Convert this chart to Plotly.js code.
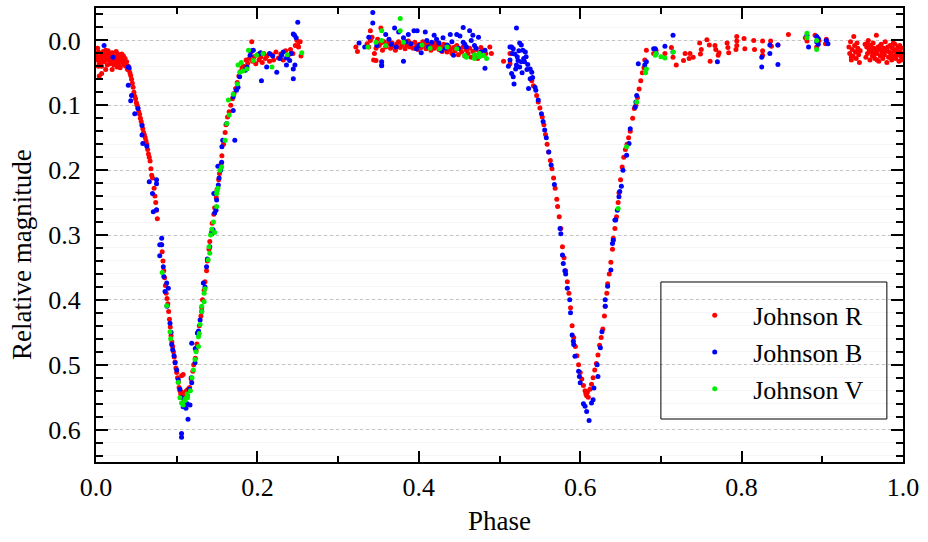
<!DOCTYPE html>
<html>
<head>
<meta charset="utf-8">
<script src="https://cdn.plot.ly/plotly-3.0.1.min.js"></script>
<style>html,body{margin:0;padding:0;background:#fff;}#chart{width:928px;height:542px;}</style>
</head>
<body>
<div id="chart"></div>
<script>
// Series names
const seriesNames = ["Johnson R", "Johnson B", "Johnson V"];
const seriesColors = ["#ff0000", "#0000ff", "#00ee00"];

// Tick values
const xTicks = [0.0, 0.2, 0.4, 0.6, 0.8, 1.0];
const yTicks = [0.0, 0.1, 0.2, 0.3, 0.4, 0.5, 0.6];

// Johnson R: [phase, relative magnitude]
const johnsonR = [
[0.000,0.022],[0.001,0.026],[0.002,0.030],[0.002,0.012],[0.003,0.018],[0.003,0.040],[0.004,0.035],[0.005,0.025],[0.006,0.020],[0.006,0.033],
[0.007,0.040],[0.007,0.051],[0.008,0.028],[0.009,0.017],[0.009,0.025],[0.010,0.033],[0.011,0.024],[0.011,0.029],[0.012,0.045],[0.012,0.015],
[0.013,0.021],[0.014,0.030],[0.014,0.038],[0.015,0.016],[0.016,0.027],[0.016,0.022],[0.017,0.036],[0.017,0.031],[0.018,0.022],[0.019,0.031],
[0.019,0.027],[0.020,0.019],[0.021,0.028],[0.021,0.034],[0.022,0.038],[0.023,0.024],[0.024,0.033],[0.024,0.026],[0.025,0.017],[0.026,0.029],
[0.026,0.041],[0.027,0.036],[0.027,0.021],[0.028,0.025],[0.029,0.032],[0.029,0.039],[0.030,0.042],[0.031,0.027],[0.032,0.021],[0.032,0.030],
[0.033,0.034],[0.034,0.030],[0.034,0.024],[0.035,0.038],[0.036,0.028],[0.037,0.040],[0.038,0.033],[0.039,0.045],[0.004,0.055],[0.020,0.045],
[0.040,0.040],[0.041,0.045],[0.042,0.050],[0.043,0.054],[0.044,0.060],[0.045,0.066],[0.046,0.072],[0.047,0.080],[0.048,0.086],[0.049,0.090],
[0.050,0.096],[0.051,0.100],[0.052,0.104],[0.053,0.110],[0.054,0.114],[0.055,0.120],[0.056,0.125],[0.057,0.130],[0.058,0.136],[0.059,0.142],
[0.060,0.146],[0.061,0.150],[0.062,0.155],[0.063,0.160],[0.064,0.168],[0.065,0.175],[0.066,0.180],[0.067,0.186],[0.068,0.198],[0.069,0.208],
[0.070,0.212],[0.072,0.228],[0.073,0.240],[0.074,0.250],[0.075,0.262],[0.076,0.275],
[0.081,0.315],[0.082,0.326],[0.083,0.340],[0.084,0.355],[0.085,0.366],[0.086,0.378],[0.087,0.390],[0.088,0.398],[0.089,0.406],[0.090,0.418],
[0.091,0.430],[0.092,0.442],[0.093,0.455],[0.094,0.465],[0.095,0.472],[0.096,0.480],[0.097,0.488],[0.098,0.496],[0.099,0.505],[0.100,0.512],
[0.101,0.520],[0.102,0.527],[0.103,0.535],[0.104,0.540],[0.105,0.545],[0.106,0.550],[0.107,0.543],[0.108,0.548],[0.109,0.553],[0.110,0.545],
[0.111,0.551],[0.112,0.540],[0.113,0.547],[0.114,0.538],[0.106,0.517],[0.108,0.515],
[0.116,0.535],[0.118,0.522],[0.120,0.510],[0.121,0.500],[0.123,0.490],[0.124,0.478],[0.125,0.468],[0.127,0.452],[0.128,0.440],[0.130,0.425],
[0.131,0.412],[0.132,0.400],[0.134,0.385],[0.135,0.372],[0.137,0.355],[0.138,0.340],[0.140,0.322],[0.141,0.310],[0.143,0.296],[0.144,0.282],
[0.146,0.268],[0.147,0.258],[0.149,0.242],[0.150,0.230],[0.152,0.215],[0.153,0.205],[0.155,0.190],[0.156,0.178],[0.158,0.160],[0.160,0.142],
[0.161,0.130],[0.163,0.118],[0.165,0.110],[0.167,0.100],[0.169,0.090],[0.171,0.082],[0.173,0.074],[0.175,0.065],[0.177,0.055],[0.179,0.048],
[0.181,0.042],[0.183,0.040],[0.186,0.030],[0.188,0.035],[0.190,0.028],[0.192,0.018],[0.193,0.002],[0.194,0.032],[0.196,0.025],[0.198,0.036],
[0.200,0.022],[0.202,0.030],[0.204,0.026],[0.206,0.034],[0.208,0.020],[0.210,0.028],[0.212,0.024],[0.215,0.032],[0.218,0.022],[0.220,0.030],
[0.223,0.018],[0.226,0.027],[0.229,0.021],[0.232,0.030],[0.235,0.016],[0.238,0.024],[0.241,0.014],[0.244,0.020],[0.247,0.008],[0.249,0.000],
[0.250,0.008],[0.251,0.010],[0.253,0.002],[0.254,0.024],
[0.322,0.010],[0.324,0.017],[0.336,0.005],[0.338,0.010],[0.340,0.000],[0.340,-0.015],[0.342,-0.005],[0.344,0.030],[0.345,0.020],[0.347,0.012],
[0.347,0.031],[0.349,-0.002],[0.351,0.008],[0.353,0.004],[0.353,-0.019],[0.354,0.038],[0.355,0.015],[0.357,0.002],[0.359,0.010],[0.361,0.006],
[0.363,0.000],[0.365,0.012],[0.367,0.004],[0.369,0.009],[0.371,0.015],[0.373,0.005],[0.375,0.002],[0.377,0.011],[0.379,0.007],[0.381,0.003],
[0.383,0.013],[0.385,0.008],[0.387,0.001],[0.389,0.010],[0.391,0.005],[0.393,0.012],[0.395,0.003],[0.397,0.009],[0.399,0.014],[0.401,0.006],
[0.403,0.011],[0.405,0.002],[0.407,0.008],[0.409,0.013],[0.411,0.005],[0.413,0.010],[0.415,0.015],[0.417,0.007],[0.419,0.012],[0.421,0.004],
[0.423,0.009],[0.425,0.014],[0.427,0.010],[0.429,0.017],[0.431,0.006],[0.433,0.012],[0.435,0.018],[0.437,0.009],[0.439,0.014],[0.441,0.020],
[0.443,0.011],[0.445,0.016],[0.447,0.008],[0.449,0.022],[0.451,0.013],[0.453,0.018],[0.455,0.010],[0.457,0.024],[0.459,0.015],[0.461,0.020],
[0.463,0.012],[0.465,0.026],[0.467,0.017],[0.469,0.022],[0.471,0.014],[0.473,0.028],[0.475,0.019],[0.477,0.011],[0.479,0.023],[0.481,0.016],
[0.483,0.020],[0.488,0.010],[0.490,0.020],[0.505,0.032],[0.513,0.020],[0.513,0.036],
[0.540,0.062],[0.542,0.070],[0.546,0.085],[0.548,0.095],[0.550,0.104],[0.553,0.118],[0.555,0.130],[0.557,0.145],[0.559,0.160],[0.561,0.172],
[0.563,0.185],[0.565,0.198],[0.567,0.212],[0.569,0.228],[0.571,0.245],[0.572,0.256],[0.574,0.272],[0.576,0.290],[0.578,0.318],[0.580,0.335],
[0.582,0.355],[0.584,0.372],[0.586,0.390],[0.588,0.412],[0.590,0.440],[0.592,0.458],[0.594,0.472],[0.596,0.486],[0.598,0.500],[0.600,0.512],
[0.602,0.522],[0.604,0.532],[0.606,0.540],[0.607,0.545],[0.608,0.548],[0.609,0.542],[0.610,0.550],[0.612,0.538],
[0.614,0.530],[0.616,0.520],[0.618,0.508],[0.620,0.498],[0.622,0.485],[0.624,0.470],[0.626,0.458],[0.628,0.445],[0.630,0.425],[0.631,0.410],
[0.633,0.390],[0.634,0.375],[0.636,0.360],[0.638,0.342],[0.640,0.322],[0.641,0.305],[0.643,0.290],[0.645,0.272],[0.647,0.250],[0.648,0.235],
[0.650,0.215],[0.652,0.195],[0.654,0.180],[0.656,0.168],[0.658,0.160],[0.660,0.150],[0.662,0.140],[0.665,0.120],[0.667,0.105],[0.669,0.100],
[0.671,0.088],[0.673,0.075],[0.675,0.062],[0.677,0.050],[0.679,0.042],[0.680,0.030],[0.682,0.015],
[0.691,0.020],[0.694,0.015],[0.705,0.020],[0.713,0.011],[0.715,0.026],[0.719,0.038],[0.728,0.031],[0.730,0.020],[0.736,0.020],[0.735,0.028],
[0.740,0.026],[0.748,0.004],[0.750,0.014],[0.749,0.021],[0.757,-0.001],[0.760,0.007],[0.761,0.032],[0.767,0.008],[0.768,0.014],[0.771,0.023],
[0.772,0.019],[0.782,0.004],[0.783,0.011],[0.784,0.019],[0.794,-0.006],[0.794,0.001],[0.794,0.008],[0.793,0.014],[0.803,-0.003],[0.804,0.013],
[0.815,0.000],[0.816,0.014],[0.826,0.001],[0.826,0.016],[0.826,0.023],[0.836,0.001],[0.837,0.009],[0.845,0.007],[0.858,-0.009],
[0.879,-0.004],[0.881,0.001],[0.891,-0.008],[0.893,0.010],[0.896,0.000],[0.905,-0.002],[0.904,0.005],
[0.933,0.010],[0.934,0.020],[0.935,0.002],[0.936,0.030],[0.937,0.014],[0.938,0.024],[0.939,-0.006],[0.940,0.008],[0.941,0.018],[0.942,0.028],
[0.943,0.004],[0.944,0.012],[0.945,0.022],[0.946,0.034],[0.947,0.016],[0.944,0.016],[0.936,0.026],
[0.953,0.006],[0.954,0.026],[0.955,0.010],[0.956,0.020],[0.957,0.000],[0.958,0.014],[0.959,0.030],[0.960,0.008],[0.961,0.018],[0.962,0.024],
[0.963,0.004],[0.964,0.012],[0.965,0.028],[0.966,0.016],[0.967,-0.008],[0.968,0.020],[0.969,0.010],[0.970,0.032],[0.971,0.014],[0.972,0.024],
[0.973,0.006],[0.974,0.018],[0.975,0.028],[0.976,0.012],[0.977,0.022],[0.978,0.002],[0.979,0.016],[0.980,0.034],[0.981,0.010],[0.982,0.026],
[0.983,0.018],[0.984,0.008],[0.985,0.020],[0.986,0.030],[0.987,0.012],[0.988,0.024],[0.989,0.016],[0.990,0.006],[0.991,0.028],[0.992,0.014],
[0.993,0.022],[0.994,0.010],[0.995,0.032],[0.996,0.018],[0.997,0.024],[0.998,0.012],[0.999,0.026],[1.000,0.020],[0.960,0.014],[0.968,0.030],
[0.976,0.018],[0.984,0.026],[0.992,0.020],[0.998,0.030],[0.956,0.004],[0.972,0.008],[0.988,0.004],[0.964,0.022],[0.980,0.014],[0.996,0.008]
];

// Johnson B: [phase, relative magnitude]
const johnsonB = [
[0.010,0.008],[0.021,0.026],
[0.040,0.041],[0.040,0.069],[0.041,0.042],[0.043,0.093],[0.044,0.085],[0.048,0.113],[0.052,0.105],[0.057,0.131],
[0.057,0.146],[0.058,0.159],[0.063,0.163],[0.066,0.218],[0.070,0.236],[0.071,0.264],[0.075,0.261],[0.075,0.215],[0.075,0.221],
[0.079,0.315],[0.0814,0.305],[0.0814,0.315],[0.079,0.332],[0.0834,0.349],[0.084,0.364],[0.0855,0.387],[0.0876,0.374],[0.0896,0.382],[0.088,0.410],
[0.0917,0.436],[0.093,0.450],[0.0938,0.469],[0.095,0.477],[0.0967,0.486],[0.098,0.497],[0.100,0.508],[0.102,0.523],[0.104,0.538],[0.106,0.551],
[0.109,0.559],[0.1115,0.567],[0.1165,0.562],[0.1156,0.538],[0.106,0.606],[0.106,0.612],[0.114,0.584],[0.108,0.565],[0.113,0.560],
[0.1186,0.528],[0.118,0.520],[0.1186,0.467],[0.123,0.475],[0.1227,0.497],[0.1256,0.451],[0.127,0.448],[0.129,0.431],[0.131,0.418],[0.133,0.374],
[0.135,0.380],[0.137,0.349],[0.138,0.337],[0.141,0.318],[0.1434,0.298],[0.145,0.292],[0.147,0.266],[0.1487,0.262],[0.1495,0.246],[0.146,0.236],
[0.1516,0.223],[0.1525,0.212],[0.151,0.194],[0.1545,0.200],[0.1557,0.188],[0.156,0.164],[0.157,0.154],[0.162,0.128],[0.170,0.108],[0.172,0.154],
[0.170,0.087],[0.174,0.077],[0.176,0.072],[0.178,0.056],[0.185,0.046],[0.187,0.041],[0.191,0.023],[0.193,0.016],[0.195,0.015],[0.203,0.020],
[0.204,0.019],[0.205,0.062],[0.2115,0.041],[0.215,0.020],[0.219,0.024],[0.224,0.049],[0.228,0.028],[0.230,0.023],[0.232,0.018],[0.236,0.038],
[0.236,0.027],[0.240,0.031],[0.242,0.020],[0.2445,0.059],[0.2445,0.044],[0.2465,0.038],[0.250,-0.028],[0.2445,-0.010],[0.246,-0.008],[0.248,-0.004],
[0.326,0.004],[0.333,0.010],[0.338,-0.005],[0.343,-0.043],[0.343,-0.027],[0.348,0.008],[0.354,0.033],[0.354,0.039],[0.359,-0.009],[0.363,-0.002],
[0.366,0.006],[0.370,-0.019],[0.372,0.010],[0.375,-0.013],[0.381,0.032],[0.381,-0.004],[0.384,0.002],[0.387,-0.009],[0.390,0.005],[0.394,-0.015],
[0.397,0.013],[0.398,-0.015],[0.400,0.008],[0.403,0.019],[0.408,-0.013],[0.410,0.000],[0.412,0.010],[0.416,0.003],[0.419,-0.008],[0.422,-0.002],
[0.425,0.004],[0.428,0.016],[0.430,-0.004],[0.433,0.012],[0.435,0.007],[0.439,-0.009],[0.441,0.002],[0.443,0.023],[0.447,-0.009],[0.449,0.012],
[0.451,-0.007],[0.455,-0.020],[0.455,0.003],[0.457,0.006],[0.459,0.010],[0.463,-0.015],[0.465,0.000],[0.467,-0.008],[0.469,0.008],[0.471,0.012],
[0.474,-0.005],[0.477,0.018],[0.482,0.015],[0.482,0.043],
[0.511,0.040],[0.513,0.010],[0.513,0.030],[0.515,0.010],[0.515,0.051],[0.516,0.020],[0.517,0.013],[0.517,0.056],[0.518,0.067],[0.519,0.021],
[0.520,0.044],[0.521,-0.019],[0.521,0.038],[0.522,0.025],[0.523,0.031],[0.524,0.016],[0.525,0.004],[0.525,0.041],[0.527,0.007],[0.527,0.033],
[0.528,0.050],[0.529,0.015],[0.530,0.028],[0.531,0.033],[0.532,0.018],[0.533,0.025],[0.534,0.045],[0.535,0.037],[0.536,0.074],[0.538,0.044],
[0.538,0.059],[0.540,0.049],[0.541,0.057],[0.544,0.072],[0.545,0.077],
[0.548,0.092],[0.552,0.113],[0.554,0.125],[0.556,0.138],[0.558,0.150],[0.561,0.172],[0.564,0.192],[0.568,0.222],[0.575,0.290],[0.576,0.298],
[0.578,0.331],[0.579,0.344],[0.581,0.355],[0.582,0.360],[0.584,0.382],[0.587,0.400],[0.588,0.420],[0.590,0.454],[0.5915,0.464],[0.592,0.469],
[0.5935,0.487],[0.598,0.510],[0.599,0.518],[0.600,0.528],[0.604,0.560],[0.606,0.564],[0.608,0.572],[0.611,0.586],[0.614,0.559],[0.616,0.554],
[0.617,0.536],[0.622,0.518],[0.621,0.500],[0.625,0.474],[0.627,0.449],[0.631,0.410],[0.631,0.400],[0.634,0.379],[0.638,0.354],[0.640,0.313],
[0.641,0.308],[0.644,0.277],[0.646,0.262],[0.643,0.277],[0.648,0.241],[0.649,0.233],[0.651,0.225],[0.653,0.200],[0.6575,0.177],[0.6605,0.159],
[0.662,0.136],[0.668,0.103],[0.669,0.095],[0.670,0.085],[0.672,0.036],[0.682,0.033],[0.691,0.013],
[0.680,0.038],[0.693,0.013],[0.694,0.020],[0.705,0.009],[0.715,-0.008],[0.715,0.018],[0.770,0.033],[0.825,0.026],[0.825,0.041],[0.835,0.007],
[0.835,0.020],[0.845,0.037],[0.845,0.007],[0.881,-0.008],[0.883,0.010],[0.893,-0.006],[0.895,-0.003],[0.893,0.002],[0.895,0.006],[0.905,0.000],
[0.907,0.005]
];

// Johnson V: [phase, relative magnitude]
const johnsonV = [
[0.082,0.358],[0.0876,0.409],[0.0917,0.449],[0.0925,0.460],[0.102,0.527],[0.104,0.551],[0.106,0.559],[0.108,0.562],[0.110,0.555],[0.111,0.552],
[0.1135,0.551],[0.113,0.545],[0.117,0.540],[0.119,0.520],[0.1206,0.508],[0.1227,0.492],[0.124,0.480],[0.127,0.457],[0.127,0.472],[0.128,0.452],
[0.129,0.438],[0.131,0.418],[0.131,0.410],[0.134,0.403],[0.134,0.390],[0.135,0.383],[0.139,0.338],[0.140,0.318],[0.141,0.328],[0.142,0.300],
[0.1434,0.291],[0.1455,0.280],[0.147,0.296],[0.1495,0.256],[0.1495,0.236],[0.150,0.232],[0.151,0.228],[0.1537,0.200],[0.1557,0.195],[0.160,0.154],
[0.162,0.128],[0.164,0.092],[0.165,0.115],[0.170,0.083],[0.175,0.067],[0.176,0.038],[0.178,0.049],[0.180,0.034],[0.182,0.047],[0.187,0.044],
[0.189,0.015],[0.195,0.031],[0.199,0.023],[0.207,0.020],[0.218,0.041],[0.237,0.022],[0.255,0.019],
[0.337,0.010],[0.347,0.003],[0.354,0.000],[0.354,-0.015],[0.359,0.008],[0.377,-0.034],[0.377,-0.015],[0.381,0.003],[0.404,0.007],[0.414,0.012],
[0.426,0.013],[0.435,0.010],[0.447,0.013],[0.457,0.023],[0.459,0.026],[0.469,0.022],[0.469,0.028],[0.475,0.020],[0.475,0.025],[0.480,0.023],
[0.484,0.028],
[0.647,0.259],[0.6575,0.164],[0.670,0.095],[0.681,0.050],[0.682,0.044],[0.693,0.023],[0.694,0.020],[0.700,0.025],[0.705,0.027],[0.715,0.018],
[0.881,-0.011],[0.881,-0.004],[0.893,0.000],[0.893,0.014]
];

const allSeries = [johnsonR, johnsonB, johnsonV];
const FONT = "Liberation Serif";

const traces = allSeries.map((pts, i) => ({
  type: "scatter",
  mode: "markers",
  name: seriesNames[i],
  x: pts.map(p => p[0]),
  y: pts.map(p => p[1]),
  marker: {color: seriesColors[i], size: 5, line: {width: 0}},
  hoverinfo: "x+y+name"
}));

const layout = {
  width: 928, height: 542,
  margin: {l: 96, r: 25, t: 8, b: 80, pad: 0},
  paper_bgcolor: "#ffffff", plot_bgcolor: "#ffffff",
  font: {family: FONT, color: "#000", size: 26},
  showlegend: true,
  legend: {
    x: 0.719, y: 0.375, xanchor: "left", yanchor: "top",
    bgcolor: "rgba(0,0,0,0)", borderwidth: 0,
    font: {family: FONT, size: 26, color: "#000"},
    itemsizing: "trace", itemwidth: 67
  },
  xaxis: {
    range: [0, 1], tickmode: "array", tickvals: xTicks, ticktext: xTicks.map(v => v.toFixed(1)),
    ticks: "inside", ticklen: 11, tickwidth: 2, tickcolor: "#000",
    showline: true, linewidth: 2, linecolor: "#000", mirror: "allticks",
    showgrid: false, zeroline: false,
    ticklabelstandoff: 1,
    tickfont: {family: FONT, size: 26, color: "#000"},
    minor: {tickmode: "linear", tick0: 0, dtick: 0.1, ticks: "inside", ticklen: 6, tickwidth: 2, tickcolor: "#000", showgrid: false}
  },
  yaxis: {
    range: [0.65, -0.05], tickmode: "array", tickvals: yTicks, ticktext: yTicks.map(v => v.toFixed(1)),
    ticks: "inside", ticklen: 12, tickwidth: 2, tickcolor: "#000",
    showline: true, linewidth: 2, linecolor: "#000", mirror: "allticks",
    showgrid: true, gridcolor: "#c4c4c4", griddash: "dot", gridwidth: 1,
    zeroline: false,
    ticklabelstandoff: 8,
    tickfont: {family: FONT, size: 26, color: "#000"},
    minor: {tickmode: "linear", tick0: 0, dtick: 0.02, ticks: "inside", ticklen: 7, tickwidth: 2, tickcolor: "#000",
            showgrid: true, gridcolor: "#f5f5f5", gridwidth: 1, griddash: "solid"}
  },
  shapes: [{
    type: "rect", xref: "paper", yref: "paper",
    x0: 0.700, x1: 0.980, y0: 0.0947, y1: 0.3965,
    line: {color: "#000", width: 1}, fillcolor: "rgba(0,0,0,0)", layer: "above"
  }],
  annotations: [
    {text: "Phase", xref: "paper", yref: "paper", x: 0.5006, y: -0.13, xanchor: "center", yanchor: "middle",
     showarrow: false, font: {family: FONT, size: 27, color: "#000"}},
    {text: "Relative magnitude", xref: "paper", yref: "paper", x: -0.0917, y: 0.458, xanchor: "center", yanchor: "middle",
     textangle: -90, showarrow: false, font: {family: FONT, size: 27, color: "#000"}}
  ]
};

Plotly.newPlot("chart", traces, layout, {displayModeBar: false, staticPlot: true});
</script>
</body>
</html>
